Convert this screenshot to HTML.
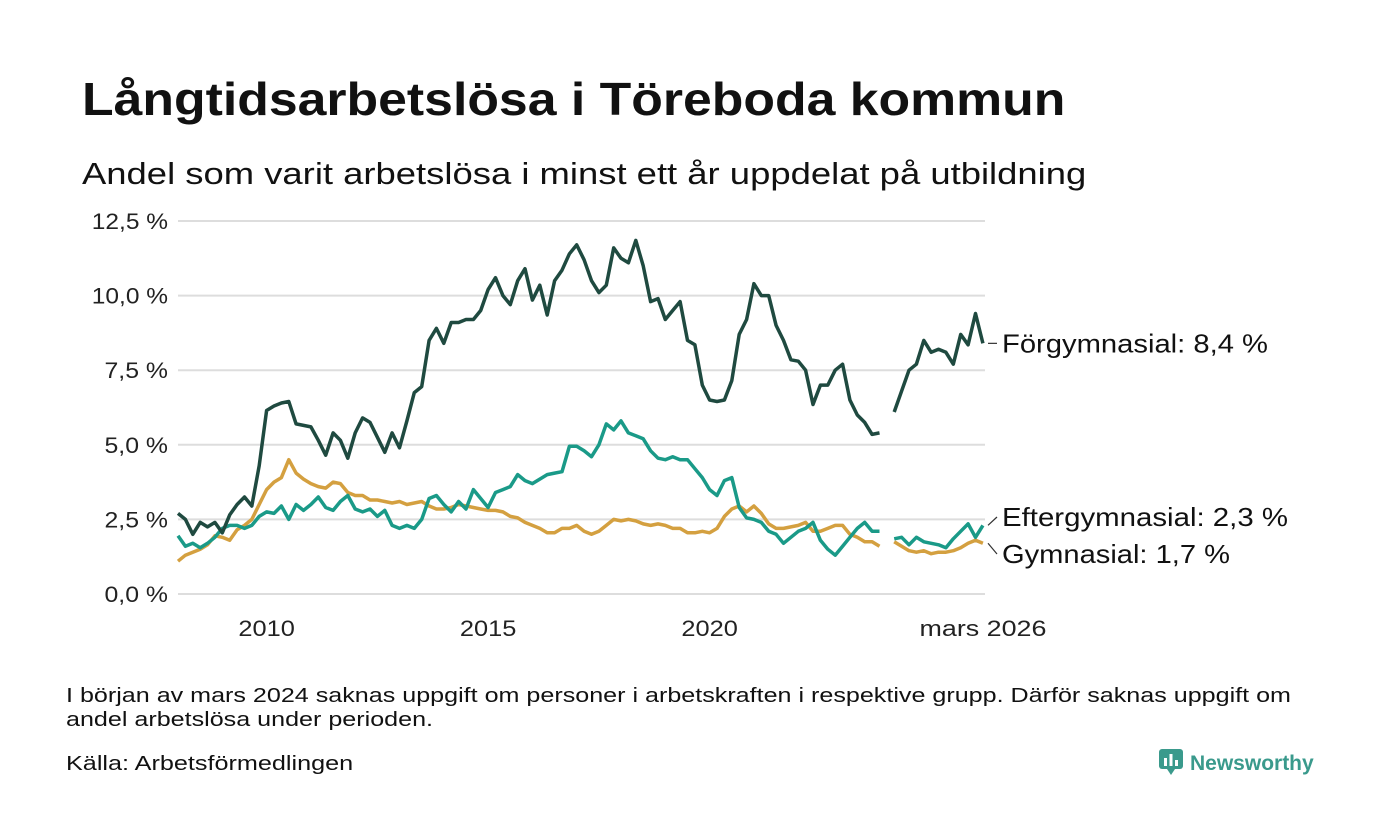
<!DOCTYPE html>
<html><head><meta charset="utf-8"><style>
body{margin:0;background:#fff;font-family:"Liberation Sans",sans-serif;color:#111}
#wrap{position:relative;width:1400px;height:840px;overflow:hidden}
.t{position:absolute;white-space:nowrap;transform-origin:0 0}
</style></head><body><div id="wrap">
<div class="t" style="left:82px;top:72px;font-size:46px;font-weight:bold;color:#111;transform:scaleX(1.125)">Långtidsarbetslösa i Töreboda kommun</div>
<div class="t" style="left:82px;top:156px;font-size:31px;color:#111;transform:scaleX(1.175)">Andel som varit arbetslösa i minst ett år uppdelat på utbildning</div>
<svg id="chart" width="1400" height="840" style="position:absolute;left:0;top:0"></svg>
<div class="t" style="left:66px;top:684px;font-size:20px;line-height:24px;transform:scaleX(1.255)">I början av mars 2024 saknas uppgift om personer i arbetskraften i respektive grupp. Därför saknas uppgift om<br>andel arbetslösa under perioden.</div>
<div class="t" style="left:66px;top:753px;font-size:20px;transform:scaleX(1.26)">Källa: Arbetsförmedlingen</div>
<div class="t" style="left:1158px;top:748px;font-size:21px;font-weight:bold;color:#3a9a8c">
<svg width="26" height="28" style="vertical-align:-6px;margin-right:6px"><rect x="1" y="1" width="24" height="20" rx="3" fill="#3a9a8c"/><path d="M9 21 L13 27 L17 21Z" fill="#3a9a8c"/><rect x="6" y="10" width="3" height="8" fill="#fff"/><rect x="11.5" y="6" width="3" height="12" fill="#fff"/><rect x="17" y="12" width="3" height="6" fill="#fff"/></svg>Newsworthy</div>
</div>
<script>
const yTicks=[0,2.5,5,7.5,10,12.5];
const yTickLabels=["0,0 %","2,5 %","5,0 %","7,5 %","10,0 %","12,5 %"];
const xTicks=[2010,2015,2020,2026.17];
const xTickLabels=["2010","2015","2020","mars 2026"];
const startYear=2008.0;
const stepYears=1/6;
const forgymnasial=[2.7,2.5,2.0,2.4,2.25,2.4,2.05,2.65,3.0,3.25,2.95,4.3,6.15,6.3,6.4,6.45,5.7,5.65,5.6,5.15,4.65,5.4,5.15,4.55,5.4,5.9,5.75,5.25,4.75,5.4,4.9,5.8,6.75,6.95,8.5,8.9,8.4,9.1,9.1,9.2,9.2,9.5,10.2,10.6,10.0,9.7,10.5,10.9,9.85,10.35,9.35,10.5,10.85,11.4,11.7,11.2,10.5,10.1,10.35,11.6,11.25,11.1,11.85,11.0,9.8,9.9,9.2,9.5,9.8,8.5,8.35,7.0,6.5,6.45,6.5,7.15,8.7,9.2,10.4,10.0,10.0,9.0,8.5,7.85,7.8,7.5,6.35,7.0,7.0,7.5,7.7,6.5,6.0,5.75,5.35,5.4,null,6.1,6.8,7.5,7.7,8.5,8.1,8.2,8.1,7.7,8.7,8.35,9.4,8.4];
const eftergymnasial=[1.95,1.6,1.7,1.55,1.7,1.9,2.2,2.3,2.3,2.2,2.3,2.6,2.75,2.7,2.95,2.5,3.0,2.8,3.0,3.25,2.9,2.8,3.1,3.3,2.85,2.75,2.85,2.6,2.8,2.3,2.2,2.3,2.2,2.5,3.2,3.3,3.0,2.75,3.1,2.85,3.5,3.2,2.9,3.4,3.5,3.6,4.0,3.8,3.7,3.85,4.0,4.05,4.1,4.95,4.95,4.8,4.6,5.0,5.7,5.5,5.8,5.4,5.3,5.2,4.8,4.55,4.5,4.6,4.5,4.5,4.2,3.9,3.5,3.3,3.8,3.9,2.9,2.55,2.5,2.4,2.1,2.0,1.7,1.9,2.1,2.2,2.4,1.8,1.5,1.3,1.6,1.9,2.2,2.4,2.1,2.1,null,1.85,1.9,1.65,1.9,1.75,1.7,1.65,1.55,1.85,2.1,2.35,1.9,2.3];
const gymnasial=[1.1,1.3,1.4,1.5,1.65,1.95,1.9,1.8,2.15,2.3,2.5,3.0,3.5,3.75,3.9,4.5,4.05,3.85,3.7,3.6,3.55,3.75,3.7,3.4,3.3,3.3,3.15,3.15,3.1,3.05,3.1,3.0,3.05,3.1,2.95,2.85,2.85,2.9,3.0,2.95,2.9,2.85,2.8,2.8,2.75,2.6,2.55,2.4,2.3,2.2,2.05,2.05,2.2,2.2,2.3,2.1,2.0,2.1,2.3,2.5,2.45,2.5,2.45,2.35,2.3,2.35,2.3,2.2,2.2,2.05,2.05,2.1,2.05,2.2,2.6,2.85,2.95,2.75,2.95,2.7,2.35,2.2,2.2,2.25,2.3,2.4,2.1,2.1,2.2,2.3,2.3,2.0,1.9,1.75,1.75,1.6,null,1.75,1.6,1.45,1.4,1.45,1.35,1.4,1.4,1.45,1.55,1.7,1.8,1.7];
const seriesNames=["Förgymnasial","Eftergymnasial","Gymnasial"];

const NS="http://www.w3.org/2000/svg";
const svg=document.getElementById('chart');
const X0=178,X1=983,T0=2008.0,T1=2026.17,Y0=594,Y1=221,V1=12.5;
const xs=t=>X0+(t-T0)/(T1-T0)*(X1-X0);
const ys=v=>Y0-v/V1*(Y0-Y1);
function mk(tag,attrs){const e=document.createElementNS(NS,tag);for(const k in attrs)e.setAttribute(k,attrs[k]);svg.appendChild(e);return e;}
yTicks.forEach((v,i)=>{
  const g=mk('line',{x1:X0,x2:985,y1:ys(v),y2:ys(v),stroke:'#dddddd','stroke-width':2});
  
  
  const t=mk('text',{x:168,y:ys(v)+8,'text-anchor':'end','font-size':22,fill:'#222','font-family':'Liberation Sans, sans-serif',textLength:yTickLabels[i].length*12.7,lengthAdjust:'spacingAndGlyphs'});
  t.textContent=yTickLabels[i];
  
  
});
xTicks.forEach((v,i)=>{
  const t=mk('text',{x:xs(v),y:636,'text-anchor':'middle','font-size':22,fill:'#222','font-family':'Liberation Sans, sans-serif',textLength:xTickLabels[i].length*14.1,lengthAdjust:'spacingAndGlyphs'});
  t.textContent=xTickLabels[i];
  
  
});
function drawSeries(vals,color,name){
  let d='',pen=false;
  vals.forEach((v,i)=>{
    if(v===null){pen=false;return;}
    const t=startYear+i*stepYears;
    d+=(pen?'L':'M')+xs(t).toFixed(1)+' '+ys(v).toFixed(1)+' ';pen=true;
  });
  const p=mk('path',{d:d,fill:'none',stroke:color,'stroke-width':3.5,'stroke-linejoin':'round'});
  
  
}
drawSeries(gymnasial,'#d4a040','line-gymnasial');
drawSeries(eftergymnasial,'#1a9a88','line-eftergymnasial');
drawSeries(forgymnasial,'#1f4a40','line-forgymnasial');
function last(a){return a[a.length-1];}
const labels=[[forgymnasial,'Förgymnasial',ys(last(forgymnasial)),266],[eftergymnasial,'Eftergymnasial',517,286],[gymnasial,'Gymnasial',554,228]];
labels.forEach(([arr,nm,ly,w])=>{
  const v=last(arr);
  const l=mk('path',{d:`M988 ${ys(v)} L997 ${ly}`,stroke:'#333','stroke-width':1.2,fill:'none'});
  
  
  const t=mk('text',{x:1002,y:ly+9,'font-size':26,fill:'#111','font-family':'Liberation Sans, sans-serif',textLength:w,lengthAdjust:'spacingAndGlyphs'});
  t.textContent=nm+': '+v.toFixed(1).replace('.',',')+' %';
  
  
});
</script>
</body></html>
